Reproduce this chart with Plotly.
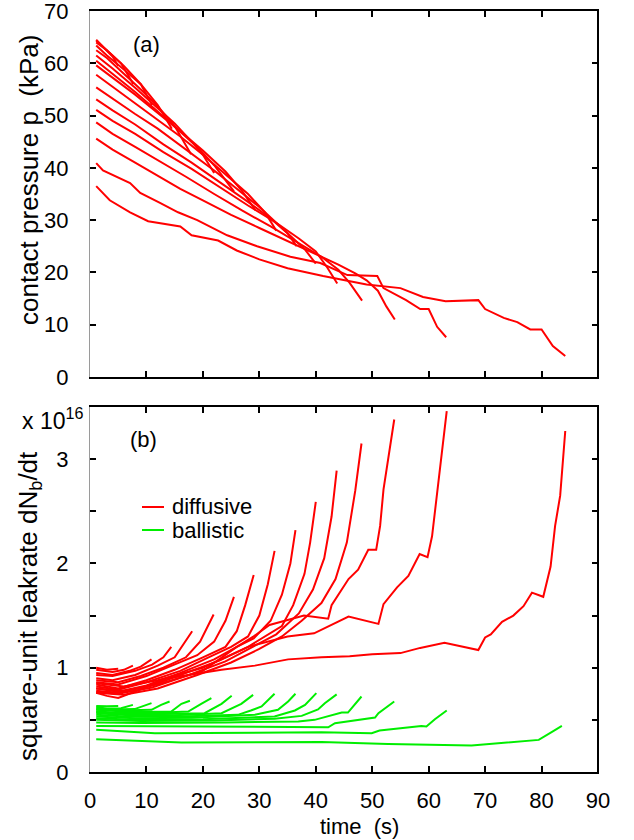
import plotly.graph_objects as go

# ---------------- Panel (a): contact pressure (kPa) vs time (s) ----------------
ta1 = [1.1, 2.5, 4.0, 5.0];            pa1 = [64.5, 63.0, 61.3, 59.5]
ta2 = [1.1, 3.0, 5.5, 7.7];            pa2 = [64.3, 62.5, 60.0, 56.0]
ta3 = [1.1, 3.0, 6.0, 9.0, 11.0];      pa3 = [64.0, 62.5, 59.5, 56.0, 52.0]
ta4 = [1.1, 3.0, 6.0, 9.0, 12.0, 14.5]; pa4 = [63.4, 61.5, 58.8, 56.0, 52.0, 47.5]
ta5 = [1.1, 3.0, 6.0, 9.0, 12.0, 15.0, 17.9]; pa5 = [62.5, 61.0, 58.0, 55.0, 51.8, 48.0, 42.6]
ta6 = [1.1, 4.0, 8.0, 12.0, 15.0, 18.0, 20.0, 22.0]; pa6 = [61.5, 59.0, 55.3, 51.5, 48.5, 45.0, 42.5, 39.0]
ta7 = [1.1, 4.0, 8.0, 12.0, 16.0, 19.0, 22.0, 25.5]; pa7 = [60.5, 58.0, 54.5, 50.8, 47.0, 44.0, 40.5, 35.5]
ta8 = [1.1, 4.0, 8.0, 12.0, 16.0, 20.0, 24.0, 27.0, 29.3]; pa8 = [59.6, 57.2, 54.0, 50.5, 47.0, 43.3, 39.3, 35.5, 31.9]
ta9 = [1.1, 4.0, 8.0, 12.0, 16.0, 20.0, 24.0, 28.0, 31.0, 33.0]; pa9 = [57.8, 55.5, 52.5, 49.3, 46.0, 42.5, 38.8, 35.0, 31.5, 28.0]
ta10 = [1.1, 4.0, 8.0, 12.0, 17.0, 22.0, 26.0, 30.0, 33.0, 35.0, 36.6]; pa10 = [55.4, 53.2, 50.3, 47.5, 43.5, 39.5, 36.0, 32.5, 29.5, 27.5, 25.0]
ta11 = [1.1, 4.0, 8.0, 13.0, 18.0, 23.0, 28.0, 32.0, 35.0, 38.0, 40.0]; pa11 = [53.1, 51.0, 48.3, 44.5, 41.0, 37.3, 33.5, 30.3, 27.5, 24.5, 21.7]
ta12 = [1.1, 4.0, 8.0, 13.0, 18.0, 23.0, 28.0, 33.0, 37.0, 40.0, 42.0, 43.8]; pa12 = [51.1, 49.0, 46.5, 43.0, 39.8, 36.3, 32.8, 29.5, 26.5, 24.0, 21.0, 17.9]
ta13 = [1.1, 4.0, 8.0, 12.0, 17.0, 22.0, 27.0, 32.0, 37.0, 41.0, 44.0, 46.0, 48.2]; pa13 = [48.7, 46.5, 44.0, 41.5, 38.3, 35.0, 31.8, 28.8, 25.5, 23.0, 20.5, 18.0, 14.6]
ta14 = [1.1, 4.0, 8.0, 12.0, 16.0, 20.0, 25.0, 30.0, 35.0, 40.0, 44.0, 47.0, 49.0, 51.0, 52.5, 54.0]
pa14 = [45.6, 43.5, 41.0, 38.5, 36.0, 33.8, 31.0, 28.5, 26.0, 23.5, 21.5, 19.8, 18.5, 16.5, 13.5, 11.0]
ta15 = [1.1, 2.3, 7.1, 8.9, 12.4, 15.6, 19.0, 24.3, 29.6, 35.5, 40.8, 45.6, 50.9, 52.0, 56.0, 58.5, 60.0, 61.5, 63.1]
pa15 = [40.9, 39.5, 37.1, 35.2, 33.3, 31.5, 30.0, 27.1, 25.0, 23.0, 21.8, 19.5, 19.3, 17.0, 14.7, 13.0, 13.0, 9.6, 7.6]
ta16 = [1.1, 3.5, 7.1, 10.3, 16.0, 18.0, 22.7, 26.0, 30.0, 35.0, 41.3, 46.0, 49.0, 55.0, 59.0, 63.0, 68.8, 70.0, 73.3, 75.7, 78.0, 80.0, 82.0, 84.2]
pa16 = [36.5, 33.8, 31.5, 29.8, 28.8, 27.1, 26.1, 24.2, 22.5, 20.8, 19.3, 18.4, 17.7, 17.0, 15.3, 14.5, 14.7, 13.0, 11.3, 10.5, 9.1, 9.1, 5.9, 4.0]

# ---------------- Panel (b): diffusive leak rate (x 1e16) ----------------
tr1 = [1.1, 3.0, 5.0]; rb1 = [1.00, 0.98, 0.99]
tr2 = [1.1, 4.0, 6.0, 7.6]; rb2 = [0.98, 0.96, 0.98, 1.02]
tr3 = [1.1, 4.0, 7.0, 9.0, 10.9]; rb3 = [0.95, 0.93, 0.97, 1.01, 1.08]
tr4 = [1.1, 4.0, 8.0, 11.0, 13.0, 14.4]; rb4 = [0.93, 0.92, 0.97, 1.03, 1.10, 1.20]
tr5 = [1.1, 4.0, 8.0, 12.0, 15.0, 16.5, 18.1]; rb5 = [0.90, 0.88, 0.93, 1.02, 1.10, 1.22, 1.35]
tr6 = [1.1, 5.0, 9.0, 13.0, 17.0, 19.5, 21.9]; rb6 = [0.88, 0.86, 0.92, 1.00, 1.10, 1.25, 1.51]
tr7 = [1.1, 5.0, 10.0, 15.0, 19.0, 22.0, 24.0, 25.5]; rb7 = [0.86, 0.84, 0.92, 1.03, 1.12, 1.25, 1.45, 1.68]
tr8 = [1.1, 5.0, 10.0, 15.0, 20.0, 24.0, 26.0, 27.5, 29.0]; rb8 = [0.84, 0.80, 0.88, 0.98, 1.10, 1.20, 1.35, 1.60, 1.89]
tr9 = [1.1, 5.0, 10.0, 16.0, 21.0, 25.0, 28.0, 30.0, 31.5, 32.7]; rb9 = [0.82, 0.79, 0.86, 0.97, 1.10, 1.20, 1.30, 1.50, 1.80, 2.12]
tr10 = [1.1, 5.0, 10.0, 16.0, 22.0, 26.0, 29.0, 32.0, 34.0, 35.5, 36.4]; rb10 = [0.80, 0.77, 0.83, 0.95, 1.08, 1.20, 1.28, 1.45, 1.70, 2.00, 2.32]
tr11 = [1.1, 5.0, 11.0, 17.0, 23.0, 28.0, 31.0, 34.0, 36.0, 38.0, 39.0, 40.0]; rb11 = [0.78, 0.76, 0.83, 0.95, 1.07, 1.20, 1.30, 1.40, 1.60, 1.90, 2.20, 2.59]
tr12 = [1.1, 5.0, 11.0, 18.0, 24.0, 29.0, 33.0, 37.0, 39.5, 41.5, 42.8, 43.7]; rb12 = [0.77, 0.75, 0.81, 0.94, 1.06, 1.20, 1.32, 1.52, 1.75, 2.05, 2.45, 2.89]
tr13 = [1.1, 6.0, 12.0, 19.0, 25.0, 30.0, 34.0, 37.5, 41.0, 43.5, 45.5, 47.0, 48.1]; rb13 = [0.76, 0.74, 0.80, 0.93, 1.05, 1.18, 1.30, 1.45, 1.62, 1.85, 2.20, 2.70, 3.15]
tr14 = [1.1, 6.0, 12.0, 20.0, 26.0, 29.0, 31.8, 37.9, 42.2, 42.8, 45.8, 47.5, 49.3, 50.7, 51.4, 52.0, 53.9]
rb14 = [0.80, 0.78, 0.84, 0.97, 1.20, 1.30, 1.41, 1.50, 1.47, 1.60, 1.85, 1.94, 2.13, 2.13, 2.36, 2.71, 3.38]
tr15 = [1.1, 6.0, 12.0, 20.0, 28.0, 35.0, 39.7, 45.8, 51.1, 52.0, 54.4, 56.4, 58.4, 59.8, 60.6, 61.5, 62.0, 63.2]
rb15 = [0.85, 0.82, 0.88, 1.00, 1.20, 1.30, 1.33, 1.49, 1.42, 1.61, 1.77, 1.88, 2.09, 2.06, 2.26, 2.68, 2.90, 3.46]
tr16 = [1.1, 3.0, 5.0, 7.5, 10.3, 13.8, 17.4, 23.3, 29.2, 35.1, 41.0, 46.0, 50.0, 55.0, 58.5, 62.8, 68.8, 70.0, 71.0, 73.0, 75.0, 76.8, 78.3, 80.3, 81.6, 82.4, 83.3, 84.2]
rb16 = [0.76, 0.73, 0.71, 0.76, 0.82, 0.90, 0.93, 0.98, 1.02, 1.08, 1.10, 1.11, 1.13, 1.14, 1.19, 1.24, 1.17, 1.29, 1.32, 1.44, 1.50, 1.59, 1.72, 1.68, 1.97, 2.36, 2.65, 3.27]

# ---------------- Panel (b): ballistic leak rate (x 1e16) ----------------
tg1 = [1.1, 3.0, 5.0]; gb1 = [0.634, 0.630, 0.634]
tg2 = [1.1, 3.0, 5.5, 7.6]; gb2 = [0.620, 0.610, 0.612, 0.644]
tg3 = [1.1, 4.0, 7.9, 10.9]; gb3 = [0.610, 0.600, 0.603, 0.660]
tg4 = [1.1, 5.0, 10.9, 12.6, 14.1]; gb4 = [0.600, 0.590, 0.596, 0.644, 0.676]
tg5 = [1.1, 6.0, 11.0, 14.4, 16.2, 17.7]; gb5 = [0.598, 0.580, 0.578, 0.580, 0.654, 0.683]
tg6 = [1.1, 6.0, 12.0, 17.4, 19.7, 21.5]; gb6 = [0.580, 0.565, 0.568, 0.580, 0.654, 0.708]
tg7 = [1.1, 6.0, 13.0, 20.3, 23.3, 25.1]; gb7 = [0.575, 0.555, 0.555, 0.564, 0.654, 0.731]
tg8 = [1.1, 7.0, 15.0, 23.3, 26.8, 28.9]; gb8 = [0.564, 0.545, 0.545, 0.564, 0.654, 0.740]
tg9 = [1.1, 7.0, 16.0, 26.2, 28.5, 30.4, 32.7]; gb9 = [0.548, 0.530, 0.532, 0.548, 0.590, 0.628, 0.750]
tg10 = [1.1, 8.0, 18.0, 29.2, 33.3, 35.1, 36.4]; gb10 = [0.532, 0.515, 0.520, 0.548, 0.596, 0.676, 0.750]
tg11 = [1.1, 8.0, 20.0, 32.7, 36.3, 38.1, 40.1]; gb11 = [0.516, 0.500, 0.505, 0.532, 0.590, 0.644, 0.756]
tg12 = [1.1, 9.0, 22.0, 32.7, 37.5, 40.4, 41.6, 43.7]; gb12 = [0.500, 0.490, 0.495, 0.510, 0.538, 0.600, 0.660, 0.744]
tg13 = [1.1, 9.0, 24.0, 36.9, 39.8, 44.6, 45.7, 48.1]; gb13 = [0.474, 0.470, 0.475, 0.484, 0.500, 0.570, 0.570, 0.724]
tg14 = [1.1, 10.0, 29.2, 42.2, 43.4, 50.5, 51.1, 53.9]; gb14 = [0.442, 0.440, 0.436, 0.429, 0.468, 0.522, 0.564, 0.676]
tg15 = [1.1, 11.5, 41.0, 49.9, 51.3, 58.7, 59.6, 61.1, 63.2]; gb15 = [0.404, 0.372, 0.381, 0.372, 0.397, 0.442, 0.436, 0.506, 0.590]
tg16 = [1.1, 16.2, 41.0, 52.8, 67.6, 75.0, 79.5, 82.0, 83.6]; gb16 = [0.314, 0.283, 0.288, 0.269, 0.253, 0.285, 0.308, 0.390, 0.442]

x_ticks = [0, 10, 20, 30, 40, 50, 60, 70, 80, 90]
ya_ticks = [0, 10, 20, 30, 40, 50, 60, 70]
yb_ticks = [0, 0.5, 1, 1.5, 2, 2.5, 3]
yb_text = ["0", "", "1", "", "2", "", "3"]

panel_a = [(ta1, pa1), (ta2, pa2), (ta3, pa3), (ta4, pa4), (ta5, pa5), (ta6, pa6), (ta7, pa7), (ta8, pa8),
           (ta9, pa9), (ta10, pa10), (ta11, pa11), (ta12, pa12), (ta13, pa13), (ta14, pa14), (ta15, pa15), (ta16, pa16)]
panel_r = [(tr1, rb1), (tr2, rb2), (tr3, rb3), (tr4, rb4), (tr5, rb5), (tr6, rb6), (tr7, rb7), (tr8, rb8),
           (tr9, rb9), (tr10, rb10), (tr11, rb11), (tr12, rb12), (tr13, rb13), (tr14, rb14), (tr15, rb15), (tr16, rb16)]
panel_g = [(tg1, gb1), (tg2, gb2), (tg3, gb3), (tg4, gb4), (tg5, gb5), (tg6, gb6), (tg7, gb7), (tg8, gb8),
           (tg9, gb9), (tg10, gb10), (tg11, gb11), (tg12, gb12), (tg13, gb13), (tg14, gb14), (tg15, gb15), (tg16, gb16)]

RED = "#ff0000"
GREEN = "#00ee00"
FONT = "Liberation Sans, Arial, sans-serif"

fig = go.Figure()
for t, p in panel_a:
    fig.add_trace(go.Scatter(x=t, y=p, mode="lines", line=dict(color=RED, width=2),
                             xaxis="x", yaxis="y", showlegend=False, hoverinfo="skip"))
for t, v in panel_g:
    fig.add_trace(go.Scatter(x=t, y=v, mode="lines", line=dict(color=GREEN, width=2),
                             xaxis="x2", yaxis="y2", showlegend=False, hoverinfo="skip"))
for t, v in panel_r:
    fig.add_trace(go.Scatter(x=t, y=v, mode="lines", line=dict(color=RED, width=2),
                             xaxis="x2", yaxis="y2", showlegend=False, hoverinfo="skip"))

W, H = 634, 840


def PX(x):
    return x / W


def PY(y):
    return 1 - y / H


xdom = [PX(90), PX(598)]
ya_dom = [PY(377), PY(11)]
yb_dom = [PY(772), PY(407)]

common_x = dict(range=[0, 90], tickvals=x_ticks, ticks="inside", ticklen=6, tickwidth=1.5, tickcolor="black",
                showline=True, linecolor="black", linewidth=2, mirror="ticks", showgrid=False, zeroline=False,
                domain=xdom, tickfont=dict(size=22), automargin=False)
common_y = dict(ticks="inside", ticklen=6, tickwidth=1.5, tickcolor="black", showline=True,
                linecolor="#9a9a9a", linewidth=1, mirror="ticks", showgrid=False, zeroline=False,
                ticklabelstandoff=16, ticklabeloverflow="allow", tickfont=dict(size=22), automargin=False)

fig.update_layout(
    width=W, height=H, margin=dict(l=0, r=0, t=0, b=0, autoexpand=False),
    paper_bgcolor="white", plot_bgcolor="white",
    font=dict(family=FONT, size=22, color="black"),
    showlegend=False,
    xaxis=dict(common_x, anchor="y", showticklabels=False),
    yaxis=dict(common_y, anchor="x", range=[0, 70], tickvals=ya_ticks, domain=ya_dom),
    xaxis2=dict(common_x, anchor="y2", showticklabels=True, ticklabelstandoff=8, ticklabeloverflow="allow"),
    yaxis2=dict(common_y, anchor="x2", range=[0, 3.5], tickvals=yb_ticks, ticktext=yb_text, domain=yb_dom),
)

# right-hand frame edges in black
for ya in ["y", "y2"]:
    xa = "x" if ya == "y" else "x2"
    fig.add_shape(type="line", xref=f"{xa} domain", yref=f"{ya} domain", x0=1, x1=1, y0=0, y1=1,
                  line=dict(color="black", width=2), layer="above")

ann = []
ann.append(dict(text="contact pressure p  (kPa)", x=PX(29), y=PY(180), textangle=-90, size=26))
ann.append(dict(text="square-unit leakrate dN<sub>b</sub>/dt", x=PX(29), y=PY(606), textangle=-90, size=26))
ann.append(dict(text="time  (s)", x=PX(359), y=PY(826), size=22))
ann.append(dict(text="(a)", x=PX(146), y=PY(44), size=22))
ann.append(dict(text="(b)", x=PX(143), y=PY(439), size=22))
ann.append(dict(text="x 10<sup>16</sup>", x=PX(52), y=PY(419), size=23))
ann.append(dict(text="diffusive", x=PX(170), y=PY(506), xanchor="left", size=22))
ann.append(dict(text="ballistic", x=PX(170), y=PY(530), xanchor="left", size=22))
for a in ann:
    a.setdefault("xanchor", "center")
    sz = a.pop("size")
    fig.add_annotation(xref="paper", yref="paper", showarrow=False, yanchor="middle",
                       font=dict(family=FONT, size=sz, color="black"), **a)

fig.add_shape(type="line", xref="paper", yref="paper", x0=PX(142), x1=PX(164), y0=PY(507), y1=PY(507),
              line=dict(color=RED, width=2))
fig.add_shape(type="line", xref="paper", yref="paper", x0=PX(142), x1=PX(164), y0=PY(530), y1=PY(530),
              line=dict(color=GREEN, width=2))

fig.write_html("out.html", config={"displayModeBar": False},
               post_script="document.body.style.margin='0px';document.body.style.overflow='hidden';")
